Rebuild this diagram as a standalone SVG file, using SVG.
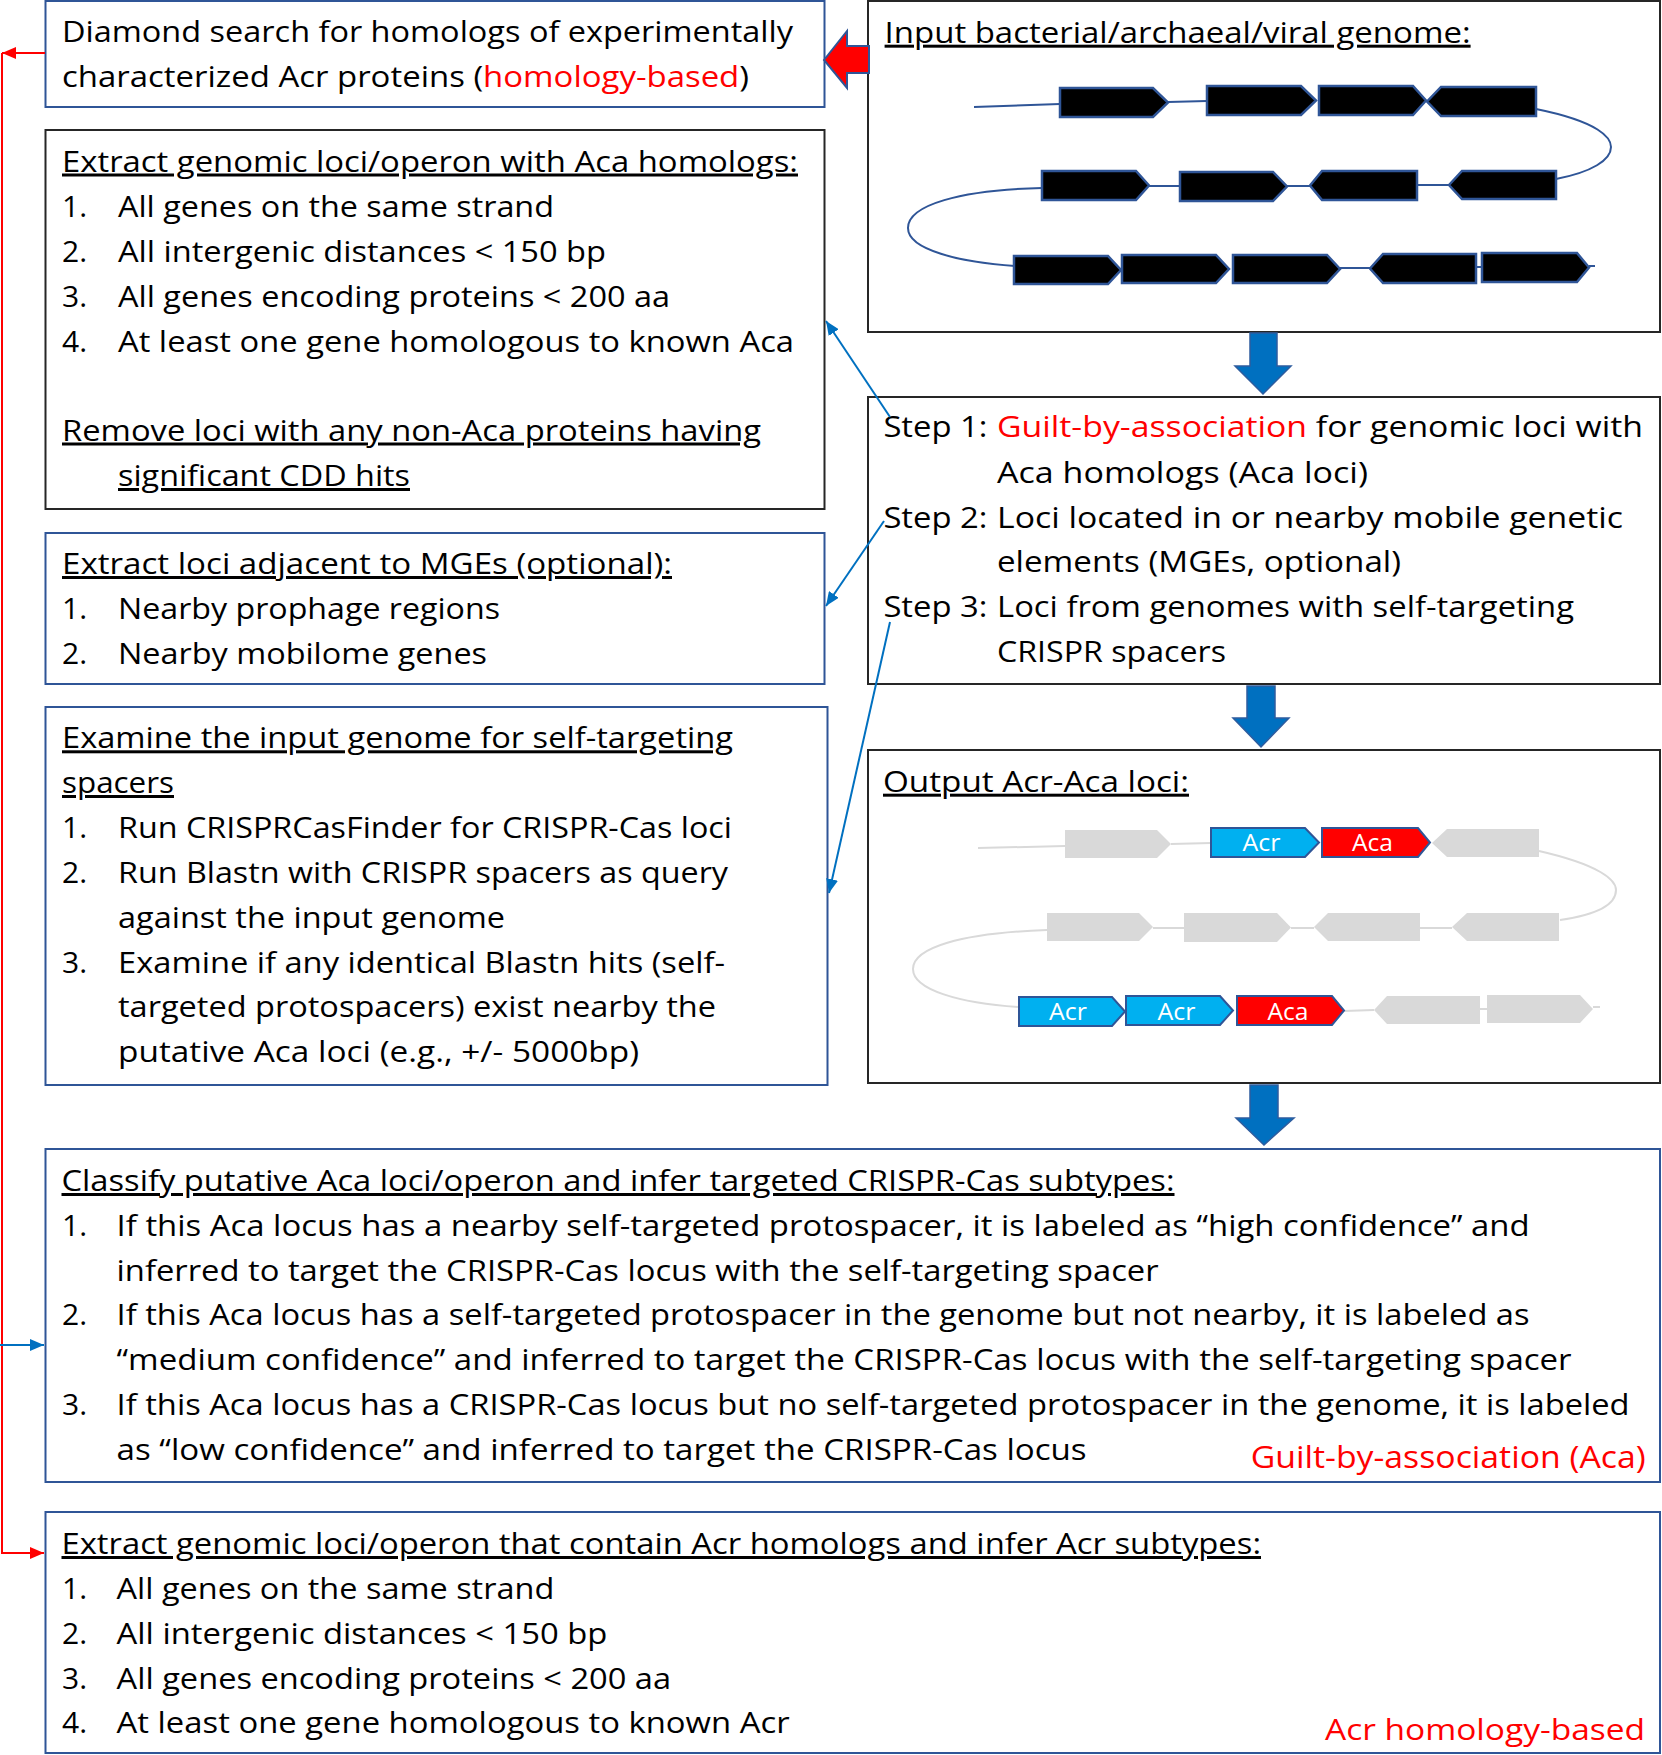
<svg xmlns="http://www.w3.org/2000/svg" width="1662" height="1755" viewBox="0 0 1662 1755">
<style>
.t{font-family:"Open Sans","Liberation Sans",sans-serif;font-size:30px;fill:#000}
.u{text-decoration:underline;text-decoration-thickness:2.5px;text-underline-offset:3px}
.red{fill:#FF0000}
.bb{fill:#fff;stroke:#2F5597;stroke-width:2}
.kb{fill:#fff;stroke:#262626;stroke-width:2}
.blk{fill:#0070C0;stroke:#2E5C9E;stroke-width:1.5}
.gn{fill:#000;stroke:#2F5597;stroke-width:2.5}
.gl{fill:none;stroke:#2F5597;stroke-width:2}
.gg{fill:#D9D9D9;stroke:none}
.gll{fill:none;stroke:#D9D9D9;stroke-width:2}
.acr{fill:#00B0F0;stroke:#2F5597;stroke-width:2}
.aca{fill:#FF0000;stroke:#2F5597;stroke-width:2}
.gt{font-family:"Open Sans","Liberation Sans",sans-serif;font-size:23px;fill:#fff;text-anchor:middle}
.cb{fill:none;stroke:#0070C0;stroke-width:2}
.cr{fill:none;stroke:#FF0000;stroke-width:2}
</style>
<defs>
<marker id="ab" markerUnits="userSpaceOnUse" markerWidth="14" markerHeight="12" refX="14" refY="6" orient="auto"><path d="M0,0 L14,6 L0,12 z" fill="#0070C0"/></marker>
<marker id="ar" markerUnits="userSpaceOnUse" markerWidth="14" markerHeight="12" refX="14" refY="6" orient="auto"><path d="M0,0 L14,6 L0,12 z" fill="#FF0000"/></marker>
</defs>
<rect width="1662" height="1755" fill="#fff"/>

<g id="diamond">
<rect class="bb" x="45.5" y="1" width="779" height="106"/>
<text class="t" x="62" y="42" textLength="731" lengthAdjust="spacingAndGlyphs">Diamond search for homologs of experimentally</text>
<text class="t" x="62" y="87" textLength="687" lengthAdjust="spacingAndGlyphs">characterized Acr proteins (<tspan class="red">homology-based</tspan>)</text>
</g>

<g id="extract-aca">
<rect class="kb" x="45.5" y="130" width="779" height="379"/>
<text class="t u" x="62" y="171.5" textLength="736" lengthAdjust="spacingAndGlyphs">Extract genomic loci/operon with Aca homologs:</text>
<text class="t" x="62" y="216.5">1.</text>
<text class="t" x="118" y="216.5" textLength="436" lengthAdjust="spacingAndGlyphs">All genes on the same strand</text>
<text class="t" x="62" y="261.5">2.</text>
<text class="t" x="118" y="261.5" textLength="488" lengthAdjust="spacingAndGlyphs">All intergenic distances &lt; 150 bp</text>
<text class="t" x="62" y="306.5">3.</text>
<text class="t" x="118" y="306.5" textLength="552" lengthAdjust="spacingAndGlyphs">All genes encoding proteins &lt; 200 aa</text>
<text class="t" x="62" y="351.5">4.</text>
<text class="t" x="118" y="351.5" textLength="676" lengthAdjust="spacingAndGlyphs">At least one gene homologous to known Aca</text>
<text class="t u" x="62" y="440.5" textLength="699" lengthAdjust="spacingAndGlyphs">Remove loci with any non-Aca proteins having</text>
<text class="t u" x="118" y="486" textLength="292" lengthAdjust="spacingAndGlyphs">significant CDD hits</text>
</g>

<g id="mge">
<rect class="bb" x="45.5" y="533" width="779" height="151"/>
<text class="t u" x="62" y="574" textLength="610" lengthAdjust="spacingAndGlyphs">Extract loci adjacent to MGEs (optional):</text>
<text class="t" x="62" y="619">1.</text>
<text class="t" x="118" y="619" textLength="382" lengthAdjust="spacingAndGlyphs">Nearby prophage regions</text>
<text class="t" x="62" y="663.6">2.</text>
<text class="t" x="118" y="663.6" textLength="369" lengthAdjust="spacingAndGlyphs">Nearby mobilome genes</text>
</g>

<g id="selftarget">
<rect class="bb" x="45.5" y="707" width="782" height="378"/>
<text class="t u" x="62" y="748.3" textLength="671" lengthAdjust="spacingAndGlyphs">Examine the input genome for self-targeting</text>
<text class="t u" x="62" y="793" textLength="112" lengthAdjust="spacingAndGlyphs">spacers</text>
<text class="t" x="62" y="838">1.</text>
<text class="t" x="118" y="838" textLength="614" lengthAdjust="spacingAndGlyphs">Run CRISPRCasFinder for CRISPR-Cas loci</text>
<text class="t" x="62" y="883">2.</text>
<text class="t" x="118" y="883" textLength="610" lengthAdjust="spacingAndGlyphs">Run Blastn with CRISPR spacers as query</text>
<text class="t" x="118" y="927.7" textLength="387" lengthAdjust="spacingAndGlyphs">against the input genome</text>
<text class="t" x="62" y="972.5">3.</text>
<text class="t" x="118" y="972.5" textLength="607" lengthAdjust="spacingAndGlyphs">Examine if any identical Blastn hits (self-</text>
<text class="t" x="118" y="1017.3" textLength="598" lengthAdjust="spacingAndGlyphs">targeted protospacers) exist nearby the</text>
<text class="t" x="118" y="1062" textLength="521" lengthAdjust="spacingAndGlyphs">putative Aca loci (e.g., +/- 5000bp)</text>
</g>

<g id="input-genome">
<rect class="kb" x="868" y="1" width="792" height="331"/>
<text class="t u" x="884.6" y="42.7" textLength="586" lengthAdjust="spacingAndGlyphs">Input bacterial/archaeal/viral genome:</text>
<path class="gl" d="M974,107 L1060,104 M1168,102 L1207,101 M1536,109 C1600,122 1611,138 1611,147 C1611,160 1592,172 1556,179 M1149,186 L1180,186 M1287,186 L1310,186 M1417,185 L1449,185 M1042,188 C960,190 908,205 908,228 C908,250 960,262 1015,266 M1340,268 L1370,268 M1476,267 L1482,267 M1589,266 L1595,266"/>
<polygon class="gn" points="1060,88 1153,88 1168,102.5 1153,117 1060,117"/>
<polygon class="gn" points="1207,86 1301,86 1316,100.5 1301,115 1207,115"/>
<polygon class="gn" points="1319,86 1413,86 1426,100.5 1413,115 1319,115"/>
<polygon class="gn" points="1427,101.5 1441,87 1536,87 1536,116 1441,116"/>
<polygon class="gn" points="1042,171 1136,171 1149,185.5 1136,200 1042,200"/>
<polygon class="gn" points="1180,172 1273,172 1287,186.5 1273,201 1180,201"/>
<polygon class="gn" points="1310,185.5 1322,171 1417,171 1417,200 1322,200"/>
<polygon class="gn" points="1449,185 1462,171 1556,171 1556,199 1462,199"/>
<polygon class="gn" points="1014,256 1108,256 1121,270 1108,284 1014,284"/>
<polygon class="gn" points="1122,255 1216,255 1229,269 1216,283 1122,283"/>
<polygon class="gn" points="1233,255 1327,255 1340,269 1327,283 1233,283"/>
<polygon class="gn" points="1370,268.5 1383,254 1476,254 1476,283 1383,283"/>
<polygon class="gn" points="1482,253 1577,253 1589,267.5 1577,282 1482,282"/>
</g>

<g id="steps">
<rect class="kb" x="868" y="397" width="792" height="287"/>
<text class="t" x="883.4" y="437.3" textLength="104" lengthAdjust="spacingAndGlyphs">Step 1:</text>
<text class="t" x="997" y="437.3" textLength="646" lengthAdjust="spacingAndGlyphs"><tspan class="red">Guilt-by-association</tspan> for genomic loci with</text>
<text class="t" x="997" y="482.5" textLength="371" lengthAdjust="spacingAndGlyphs">Aca homologs (Aca loci)</text>
<text class="t" x="883.4" y="527.5" textLength="104" lengthAdjust="spacingAndGlyphs">Step 2:</text>
<text class="t" x="997" y="527.5" textLength="626" lengthAdjust="spacingAndGlyphs">Loci located in or nearby mobile genetic</text>
<text class="t" x="997" y="572.3" textLength="404" lengthAdjust="spacingAndGlyphs">elements (MGEs, optional)</text>
<text class="t" x="883.4" y="617" textLength="104" lengthAdjust="spacingAndGlyphs">Step 3:</text>
<text class="t" x="997" y="617" textLength="577" lengthAdjust="spacingAndGlyphs">Loci from genomes with self-targeting</text>
<text class="t" x="997" y="662" textLength="229" lengthAdjust="spacingAndGlyphs">CRISPR spacers</text>
</g>

<g id="output-loci">
<rect class="kb" x="868" y="750" width="792" height="333"/>
<text class="t u" x="883" y="791.7" textLength="306" lengthAdjust="spacingAndGlyphs">Output Acr-Aca loci:</text>
<path class="gll" d="M978,848 L1065,846 M1171,844 L1211,843 M1539,851 C1600,865 1616,880 1616,890 C1616,905 1595,915 1560,920 M1153,928 L1184,928 M1291,928 L1314,928 M1420,928 L1452,928 M1047,930 C960,933 913,948 913,969 C913,990 960,1003 1018,1007 M1344,1011 L1374,1010 M1480,1009 L1487,1009 M1593,1007 L1600,1007"/>
<polygon class="gg" points="1065,830 1157,830 1171,844 1157,858 1065,858"/>
<polygon class="acr" points="1211,828 1305,828 1319,842.5 1305,857 1211,857"/>
<polygon class="aca" points="1322,828 1418,828 1430,842.5 1418,857 1322,857"/>
<polygon class="gg" points="1432,843 1447,829 1539,829 1539,857 1447,857"/>
<polygon class="gg" points="1047,913 1139,913 1153,927 1139,941 1047,941"/>
<polygon class="gg" points="1184,913 1277,913 1291,927.5 1277,942 1184,942"/>
<polygon class="gg" points="1314,927 1328,913 1420,913 1420,941 1328,941"/>
<polygon class="gg" points="1452,927 1467,913 1559,913 1559,941 1467,941"/>
<polygon class="acr" points="1019,997 1112,997 1125,1011.5 1112,1026 1019,1026"/>
<polygon class="acr" points="1126,996 1220,996 1233,1010.5 1220,1025 1126,1025"/>
<polygon class="aca" points="1237,996 1332,996 1344,1010.5 1332,1025 1237,1025"/>
<polygon class="gg" points="1374,1010 1387,996 1480,996 1480,1024 1387,1024"/>
<polygon class="gg" points="1487,995 1580,995 1593,1009 1580,1023 1487,1023"/>
<text class="gt" x="1261.5" y="851" textLength="38" lengthAdjust="spacingAndGlyphs">Acr</text>
<text class="gt" x="1372.5" y="851" textLength="41" lengthAdjust="spacingAndGlyphs">Aca</text>
<text class="gt" x="1068" y="1020" textLength="38" lengthAdjust="spacingAndGlyphs">Acr</text>
<text class="gt" x="1176.5" y="1020" textLength="38" lengthAdjust="spacingAndGlyphs">Acr</text>
<text class="gt" x="1288" y="1020" textLength="41" lengthAdjust="spacingAndGlyphs">Aca</text>
</g>

<g id="classify">
<rect class="bb" x="45.5" y="1149" width="1614.5" height="333"/>
<text class="t u" x="61.5" y="1191" textLength="1113" lengthAdjust="spacingAndGlyphs">Classify putative Aca loci/operon and infer targeted CRISPR-Cas subtypes:</text>
<text class="t" x="62" y="1235.5">1.</text>
<text class="t" x="116.6" y="1235.5" textLength="1413" lengthAdjust="spacingAndGlyphs">If this Aca locus has a nearby self-targeted protospacer, it is labeled as “high confidence” and</text>
<text class="t" x="116.6" y="1280.5" textLength="1042" lengthAdjust="spacingAndGlyphs">inferred to target the CRISPR-Cas locus with the self-targeting spacer</text>
<text class="t" x="62" y="1325.3">2.</text>
<text class="t" x="116.6" y="1325.3" textLength="1413" lengthAdjust="spacingAndGlyphs">If this Aca locus has a self-targeted protospacer in the genome but not nearby, it is labeled as</text>
<text class="t" x="116.6" y="1370" textLength="1455" lengthAdjust="spacingAndGlyphs">“medium confidence” and inferred to target the CRISPR-Cas locus with the self-targeting spacer</text>
<text class="t" x="62" y="1415">3.</text>
<text class="t" x="116.6" y="1415" textLength="1513" lengthAdjust="spacingAndGlyphs">If this Aca locus has a CRISPR-Cas locus but no self-targeted protospacer in the genome, it is labeled</text>
<text class="t" x="116.6" y="1460" textLength="970" lengthAdjust="spacingAndGlyphs">as “low confidence” and inferred to target the CRISPR-Cas locus</text>
<text class="t red" x="1250.7" y="1468" textLength="395" lengthAdjust="spacingAndGlyphs" style="font-size:31px">Guilt-by-association (Aca)</text>
</g>

<g id="extract-acr">
<rect class="bb" x="45.5" y="1512" width="1614.5" height="241"/>
<text class="t u" x="61.5" y="1554" textLength="1199.5" lengthAdjust="spacingAndGlyphs">Extract genomic loci/operon that contain Acr homologs and infer Acr subtypes:</text>
<text class="t" x="62" y="1599">1.</text>
<text class="t" x="116.6" y="1599" textLength="437.7" lengthAdjust="spacingAndGlyphs">All genes on the same strand</text>
<text class="t" x="62" y="1643.8">2.</text>
<text class="t" x="116.6" y="1643.8" textLength="490.7" lengthAdjust="spacingAndGlyphs">All intergenic distances &lt; 150 bp</text>
<text class="t" x="62" y="1688.6">3.</text>
<text class="t" x="116.6" y="1688.6" textLength="554.5" lengthAdjust="spacingAndGlyphs">All genes encoding proteins &lt; 200 aa</text>
<text class="t" x="62" y="1733.4">4.</text>
<text class="t" x="116.6" y="1733.4" textLength="673" lengthAdjust="spacingAndGlyphs">At least one gene homologous to known Acr</text>
<text class="t red" x="1325" y="1740" textLength="320" lengthAdjust="spacingAndGlyphs">Acr homology-based</text>
</g>

<g id="connectors">
<polygon class="blk" points="1250,333 1277,333 1277,366 1291,366 1263,394 1235,366 1250,366"/>
<polygon class="blk" points="1247,686 1275,686 1275,718 1289,718 1261,747 1233,718 1247,718"/>
<polygon class="blk" points="1250,1085 1278,1085 1278,1118 1294,1118 1264,1145 1236,1118 1250,1118"/>
<polygon points="824,60 847,31 847,46 869,46 869,73 847,73 847,88" fill="#FF0000" stroke="#2F5597" stroke-width="2"/>
<line class="cb" x1="890" y1="417" x2="826" y2="321" marker-end="url(#ab)"/>
<line class="cb" x1="884" y1="521" x2="826" y2="606" marker-end="url(#ab)"/>
<line class="cb" x1="890" y1="622" x2="829" y2="893" marker-end="url(#ab)"/>
<line class="cr" x1="45" y1="53" x2="2" y2="53" marker-end="url(#ar)"/>
<polyline class="cr" points="2,53 2,1553 44,1553" marker-end="url(#ar)"/>
<line class="cb" x1="0" y1="1345" x2="44" y2="1345" marker-end="url(#ab)"/>
</g>
</svg>
